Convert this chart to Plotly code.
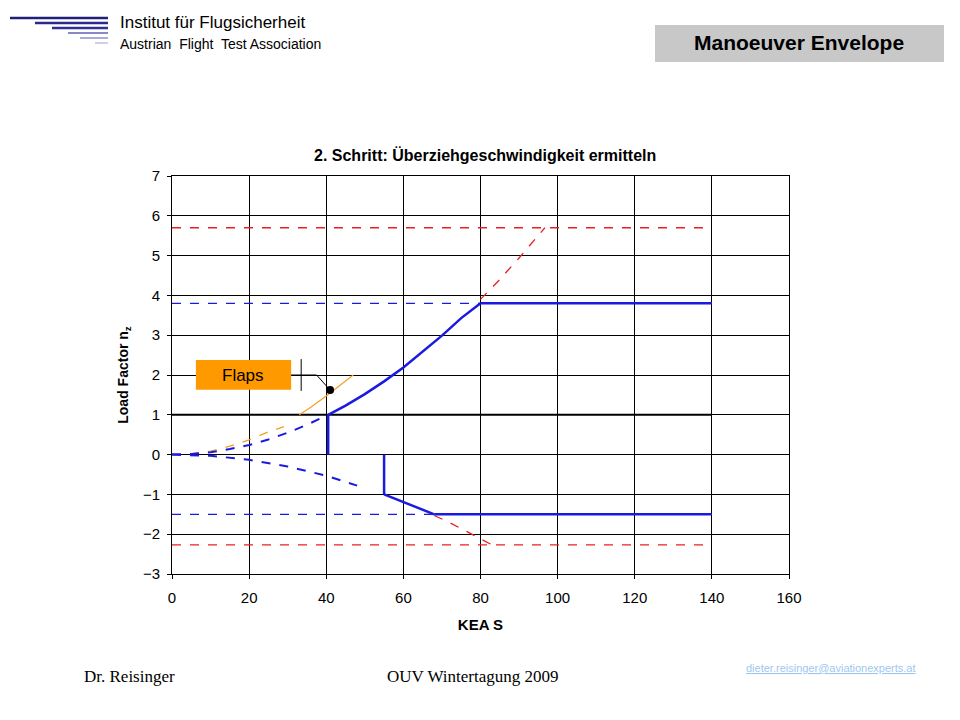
import plotly.graph_objects as go

# Data
pos_dash_x = [0, 5, 10, 15, 20, 25, 30, 35, 40.5]
pos_dash_y = [0, 0.015, 0.06, 0.14, 0.24, 0.38, 0.55, 0.75, 1.0]
pos_solid_x = [40.5, 45, 50, 55, 60, 65, 70, 75, 80]
pos_solid_y = [1.0, 1.23, 1.52, 1.84, 2.19, 2.58, 2.99, 3.43, 3.8]
red_pos_x = [80, 85, 90, 96.7]
red_pos_y = [3.9, 4.4, 4.94, 5.7]
neg_dash_x = [0, 10, 20, 30, 40, 48]
neg_dash_y = [0, -0.03, -0.13, -0.3, -0.53, -0.78]
neg_solid_x = [55, 60, 65, 68]
neg_solid_y = [-1.0, -1.19, -1.4, -1.5]
red_neg_x = [68, 72, 77, 83]
red_neg_y = [-1.53, -1.71, -1.96, -2.27]
flap_dash_x = [0, 5, 10, 15, 20, 25, 29]
flap_dash_y = [0, 0.02, 0.09, 0.21, 0.37, 0.57, 0.7]
flap_solid_x = [33, 36, 40, 44, 47]
flap_solid_y = [1.0, 1.19, 1.47, 1.78, 2.0]
n_pos_max, n_neg_max = 3.8, -1.5
n_pos_ult, n_neg_ult = 5.7, -2.27
v_max = 140

fig = go.Figure()
def add(x, y, color, dash, w):
    fig.add_trace(go.Scatter(x=x, y=y, mode="lines", line=dict(color=color, dash=dash, width=w), showlegend=False))

add([0, v_max], [n_pos_ult]*2, "#e82020", "dash", 1.3)
add([0, v_max], [n_neg_ult]*2, "#e82020", "dash", 1.3)
add(red_pos_x, red_pos_y, "#e82020", "dash", 1.3)
add(red_neg_x, red_neg_y, "#e82020", "dash", 1.3)
add([0, 80], [n_pos_max]*2, "#1a1ae0", "dash", 1.3)
add([0, 68], [n_neg_max]*2, "#1a1ae0", "dash", 1.3)
add([0, v_max], [1, 1], "black", "solid", 2)
add(flap_dash_x, flap_dash_y, "#f5a020", "dash", 1.3)
add(flap_solid_x, flap_solid_y, "#f5a020", "solid", 1.2)
add(pos_dash_x, pos_dash_y, "#1a1ae0", "dash", 2)
add(neg_dash_x, neg_dash_y, "#1a1ae0", "dash", 2)
add(pos_solid_x, pos_solid_y, "#1a1ae0", "solid", 2.5)
add([80, v_max], [n_pos_max]*2, "#1a1ae0", "solid", 2.5)
add(neg_solid_x, neg_solid_y, "#1a1ae0", "solid", 2.5)
add([68, v_max], [n_neg_max]*2, "#1a1ae0", "solid", 2.5)
add([40.5, 40.5], [0, 1], "#1a1ae0", "solid", 2.5)
add([55, 55], [0, -1], "#1a1ae0", "solid", 2.5)
fig.add_trace(go.Scatter(x=[41], y=[1.62], mode="markers", marker=dict(color="black", size=8), showlegend=False))

ax = dict(showgrid=True, gridcolor="black", gridwidth=1, showline=True, linecolor="black", mirror=True,
          zeroline=False, ticks="outside", tickcolor="black", ticklen=4,
          tickfont=dict(family="Liberation Sans, Arial", size=15, color="black"))
fig.update_xaxes(**ax, range=[0, 160], dtick=20, ticklabelstandoff=6,
                 title=dict(text="<b>KEA S</b>", font=dict(family="Liberation Sans", size=15, color="black"), standoff=14))
fig.update_yaxes(**ax, range=[-3, 7], dtick=1, ticklabelstandoff=4,
                 title=dict(text="<b>Load Factor n<sub>z</sub></b>", font=dict(family="Liberation Sans", size=14, color="black"), standoff=10))

def PX(px): return (px-172)/617
def PY(py): return (574-py)/398

shapes = [
    dict(type="rect", xref="x", yref="y", x0=6.2, x1=30.9, y0=1.63, y1=2.38, fillcolor="#ff9900", line=dict(width=0), layer="above"),
    dict(type="line", xref="x", yref="y", x0=30.9, x1=33.5, y0=2.0, y1=2.0, line=dict(color="black", width=1)),
    dict(type="line", xref="x", yref="y", x0=33.5, x1=33.5, y0=1.6, y1=2.4, line=dict(color="black", width=1)),
    dict(type="line", xref="x", yref="y", x0=33.5, x1=37.5, y0=2.0, y1=2.0, line=dict(color="black", width=1)),
    dict(type="line", xref="x", yref="y", x0=37.5, x1=41, y0=2.0, y1=1.62, line=dict(color="black", width=1)),
    dict(type="rect", xref="paper", yref="paper", x0=PX(655), x1=PX(944), y0=PY(62), y1=PY(25),
         fillcolor="#c8c8c8", line=dict(width=0)),
]
for i, (x0, x1, col) in enumerate([(10, 108, "#20207a"), (35, 108, "#2a2a8a"), (52, 108, "#30309a"), (68, 108, "#6060b0"), (80, 108, "#9090c8"), (95, 108, "#c0c0dd")]):
    y = 18 + i*5
    shapes.append(dict(type="line", xref="paper", yref="paper", x0=PX(x0), x1=PX(x1),
                       y0=PY(y), y1=PY(y), line=dict(color=col, width=2.5 if i < 3 else 1.5)))

anns = [
    dict(x=18.5, y=2.0, xref="x", yref="y", text="Flaps", font=dict(family="Liberation Sans", size=17, color="black")),
    dict(x=PX(485), y=PY(155), text="<b>2. Schritt: Überziehgeschwindigkeit ermitteln</b>", font=dict(family="Liberation Sans", size=16, color="black")),
    dict(x=PX(799), y=PY(43), text="<b>Manoeuver Envelope</b>", font=dict(family="Liberation Sans", size=21, color="black")),
    dict(x=PX(118), y=PY(22), text="Institut für Flugsicherheit", xanchor="left", font=dict(family="Liberation Sans", size=17, color="black")),
    dict(x=PX(118), y=PY(44), text="Austrian  Flight  Test Association", xanchor="left", font=dict(family="Liberation Sans", size=14, color="black")),
    dict(x=PX(82), y=PY(676), text="Dr. Reisinger", xanchor="left", font=dict(family="Liberation Serif", size=17, color="black")),
    dict(x=PX(385), y=PY(676), text="OUV Wintertagung 2009", xanchor="left", font=dict(family="Liberation Serif", size=17, color="black")),
    dict(x=PX(918), y=PY(668), text="<u>dieter.reisinger@aviationexperts.at</u>", xanchor="right", font=dict(family="Liberation Sans", size=11, color="#9ec8f0")),
]
for a in anns:
    a.setdefault("xref", "paper"); a.setdefault("yref", "paper"); a.setdefault("showarrow", False)
    a.setdefault("xanchor", "center"); a["yanchor"] = "middle"

fig.update_layout(width=944, height=704, margin=dict(l=164, r=163, t=168, b=138),
                  plot_bgcolor="white", paper_bgcolor="white", shapes=shapes, annotations=anns)
fig.write_html("out.html")
